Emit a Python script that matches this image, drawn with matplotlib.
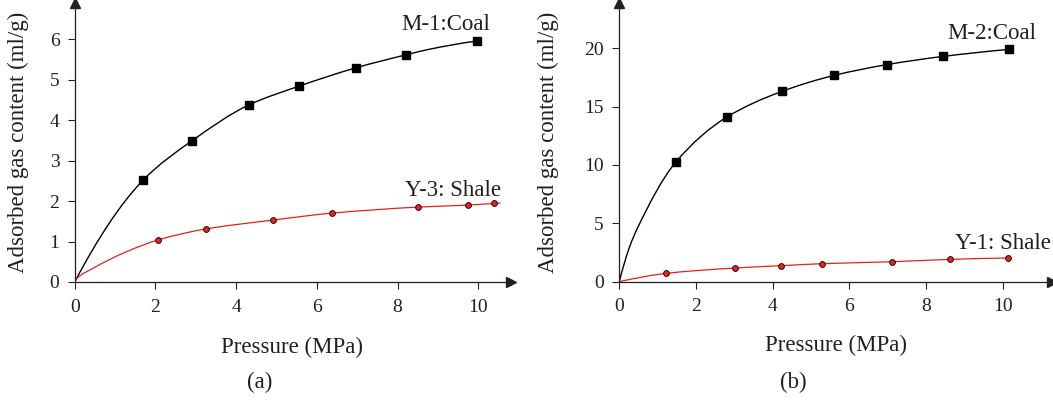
"""Adsorption isotherms: coal vs shale, two panels."""
import matplotlib
matplotlib.use("Agg")
import matplotlib.pyplot as plt  # noqa: E402
from matplotlib.path import Path
from matplotlib.patches import PathPatch
import numpy as np

plt.rcParams["font.family"] = ["Liberation Serif", "DejaVu Serif"]

_INK = "#231f20"
_RED = "#e2231a"

# --- (a) measured points ---
a_coal_p = [1.70, 2.91, 4.31, 5.57, 6.97, 8.21, 9.96]
a_coal_v = [2.52, 3.49, 4.37, 4.84, 5.29, 5.61, 5.95]
a_shale_p = [2.07, 3.25, 4.92, 6.37, 8.52, 9.74, 10.39]
a_shale_v = [1.04, 1.31, 1.53, 1.70, 1.85, 1.90, 1.94]
# fitted curves
a_coal_cp = [0, 1.70, 2.91, 4.31, 5.57, 6.97, 8.21, 8.80, 9.96]
a_coal_cv = [0, 2.52, 3.49, 4.37, 4.84, 5.29, 5.61, 5.75, 5.95]
a_shale_cp = [0, 0.05, 0.46, 1.29, 2.07, 3.25, 4.92, 6.37, 8.52, 9.74, 10.39, 10.55]
a_shale_cv = [0, 0.08, 0.34, 0.75, 1.04, 1.31, 1.53, 1.70, 1.85, 1.90, 1.94, 1.95]

# --- (b) measured points ---
b_coal_p = [1.47, 2.80, 4.25, 5.59, 6.99, 8.43, 10.15]
b_coal_v = [10.23, 14.09, 16.31, 17.66, 18.60, 19.29, 19.89]
b_shale_p = [1.22, 3.01, 4.22, 5.28, 7.12, 8.63, 10.12]
b_shale_v = [0.71, 1.17, 1.37, 1.54, 1.71, 1.91, 2.03]
b_coal_cp = [0, 0.26, 0.48, 1.47, 2.80, 4.25, 5.59, 6.99, 8.43, 10.15]
b_coal_cv = [0, 2.90, 4.63, 10.23, 14.09, 16.31, 17.66, 18.60, 19.29, 19.89]
b_shale_cp = [0] + b_shale_p
b_shale_cv = [0] + b_shale_v

x_ticks = [0, 2, 4, 6, 8, 10]
a_y_ticks = [0, 1, 2, 3, 4, 5, 6]
b_y_ticks = [0, 5, 10, 15, 20]


def _slopes(x, y):
    """PCHIP (Fritsch-Carlson) node slopes."""
    h = np.diff(x)
    d = np.diff(y) / h
    m = np.zeros_like(y)
    for i in range(1, len(x) - 1):
        if d[i - 1] * d[i] > 0:
            w1 = 2 * h[i] + h[i - 1]
            w2 = h[i] + 2 * h[i - 1]
            m[i] = (w1 + w2) / (w1 / d[i - 1] + w2 / d[i])
    m[0] = ((2 * h[0] + h[1]) * d[0] - h[0] * d[1]) / (h[0] + h[1])
    m[-1] = ((2 * h[-1] + h[-2]) * d[-1] - h[-1] * d[-2]) / (h[-1] + h[-2])
    if m[0] * d[0] <= 0:
        m[0] = 0
    if m[-1] * d[-1] <= 0:
        m[-1] = 0
    return m


def _smooth(ax, xs, ys, color, lw):
    """Smooth curve through the points, drawn as a cubic Bezier path."""
    x = np.asarray(xs, float)
    y = np.asarray(ys, float)
    m = _slopes(x, y)
    verts = [(x[0], y[0])]
    codes = [Path.MOVETO]
    for i in range(len(x) - 1):
        h = x[i + 1] - x[i]
        verts += [(x[i] + h / 3, y[i] + m[i] * h / 3),
                  (x[i + 1] - h / 3, y[i + 1] - m[i + 1] * h / 3),
                  (x[i + 1], y[i + 1])]
        codes += [Path.CURVE4] * 3
    ax.add_patch(PathPatch(Path(verts, codes), fc="none", ec=color, lw=lw,
                           zorder=2))


def _style(ax, xmax, ymax, yticks):
    ax.set_xlim(0, xmax)
    ax.set_ylim(0, ymax)
    ax.set_xticks(x_ticks)
    ax.set_yticks(yticks)
    for s in ("top", "right"):
        ax.spines[s].set_visible(False)
    for s in ("left", "bottom"):
        ax.spines[s].set_color(_INK)
        ax.spines[s].set_linewidth(0.9)
    ax.tick_params(direction="out", length=5, width=0.8, color=_INK,
                   labelcolor=_INK, labelsize=14)
    ax.tick_params(axis="x", pad=7)
    ax.tick_params(axis="y", pad=6)
    ax.plot(1, 0, ">", color=_INK, ms=7, transform=ax.get_yaxis_transform(),
            clip_on=False)
    ax.plot(0, 1, "^", color=_INK, ms=7, transform=ax.get_xaxis_transform(),
            clip_on=False)
    ax.set_xlabel("Pressure (MPa)", fontsize=16.5, color=_INK)
    ax.set_ylabel("Adsorbed gas content (ml/g)", fontsize=16.5, color=_INK,
                  va="center")


fig = plt.figure(figsize=(10.53, 4.0), dpi=100)
ax_a = fig.add_axes([0.0709, 0.295, 0.4143, 0.6975])
ax_b = fig.add_axes([0.5881, 0.2958, 0.4106, 0.697])

# panel (a)
_smooth(ax_a, a_coal_cp, a_coal_cv, "black", 1.0)
_smooth(ax_a, a_shale_cp, a_shale_cv, _RED, 0.9)
ax_a.plot(a_coal_p, a_coal_v, "s", color="black", ms=6, zorder=3)
ax_a.plot(a_shale_p, a_shale_v, "o", mfc=_RED, mec="black", mew=0.6, ms=4.2,
          zorder=3)
_style(ax_a, 10.81, 6.89, a_y_ticks)
ax_a.xaxis.set_label_coords(0.498, -0.195)
ax_a.yaxis.set_label_coords(-0.128, 0.5)
ax_a.text(9.19, 6.37, "M-1:Coal", fontsize=16.5, color=_INK,
          ha="center", va="center")
ax_a.text(9.38, 2.27, "Y-3: Shale", fontsize=16.5, color=_INK,
          ha="center", va="center")

# panel (b)
_smooth(ax_b, b_coal_cp, b_coal_cv, "black", 1.0)
_smooth(ax_b, b_shale_cp, b_shale_cv, _RED, 0.9)
ax_b.plot(b_coal_p, b_coal_v, "s", color="black", ms=6, zorder=3)
ax_b.plot(b_shale_p, b_shale_v, "o", mfc=_RED, mec="black", mew=0.6, ms=4.2,
          zorder=3)
_style(ax_b, 11.27, 23.88, b_y_ticks)
ax_b.xaxis.set_label_coords(0.501, -0.19)
ax_b.yaxis.set_label_coords(-0.163, 0.5)
ax_b.text(9.70, 21.28, "M-2:Coal", fontsize=16.5, color=_INK,
          ha="center", va="center")
ax_b.text(10.0, 3.29, "Y-1: Shale", fontsize=16.5, color=_INK,
          ha="center", va="center")

fig.text(0.247, 0.045, "(a)", fontsize=16.5, color=_INK, ha="center",
         va="center")
fig.text(0.753, 0.045, "(b)", fontsize=16.5, color=_INK, ha="center",
         va="center")

fig.savefig("out.png", dpi=100)
plt.close(fig)
